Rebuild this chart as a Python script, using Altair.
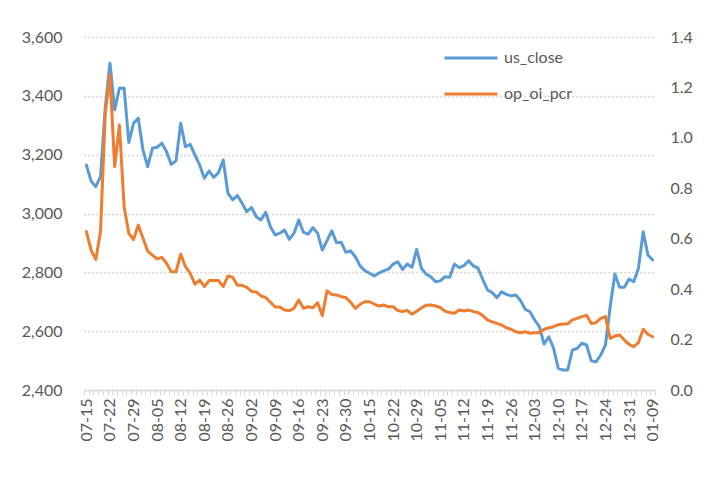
import altair as alt
import pandas as pd

tick_labels = ["07-15", "07-22", "07-29", "08-05", "08-12", "08-19", "08-26", "09-02",
               "09-09", "09-16", "09-23", "09-30", "10-15", "10-22", "10-29", "11-05",
               "11-12", "11-19", "11-26", "12-03", "12-10", "12-17", "12-24", "12-31", "01-09"]

us_close = [3165, 3110, 3091, 3125, 3360, 3511, 3352, 3426, 3426, 3241,
            3307, 3324, 3216, 3159, 3222, 3225, 3239, 3210, 3167, 3179,
            3307, 3227, 3235, 3199, 3165, 3120, 3145, 3123, 3139, 3182,
            3069, 3046, 3061, 3035, 3006, 3021, 2989, 2978, 3004, 2955,
            2927, 2933, 2944, 2912, 2933, 2978, 2936, 2930, 2952, 2933,
            2876, 2908, 2941, 2901, 2902, 2868, 2873, 2853, 2822, 2806,
            2797,
            2788, 2797, 2805, 2811, 2828, 2836, 2810, 2828, 2817, 2878,
            2814, 2794, 2785, 2768, 2771, 2785, 2783, 2828, 2816, 2823,
            2839, 2822, 2814, 2776, 2740, 2731, 2714, 2734, 2725, 2720,
            2723, 2704, 2674, 2666, 2638, 2615, 2556, 2581, 2542, 2474,
            2468, 2468, 2536, 2541, 2559, 2553, 2499, 2496, 2519, 2553,
            2683, 2794, 2749, 2749, 2777, 2768, 2814, 2938, 2859, 2842]

op_oi_pcr = [0.628, 0.555, 0.518, 0.628, 1.097, 1.249, 0.886, 1.051, 0.727, 0.621,
             0.597, 0.654, 0.602, 0.551, 0.535, 0.520, 0.526, 0.502, 0.469, 0.469,
             0.539, 0.489, 0.463, 0.420, 0.436, 0.410, 0.434, 0.434, 0.434, 0.410,
             0.452, 0.447, 0.415, 0.415, 0.407, 0.391, 0.389, 0.373, 0.367, 0.348,
             0.329, 0.329, 0.317, 0.315, 0.324, 0.357, 0.324, 0.330, 0.326, 0.346,
             0.295, 0.394, 0.379, 0.377, 0.370, 0.367, 0.348, 0.324, 0.340, 0.350,
             0.350,
             0.341, 0.333, 0.337, 0.330, 0.330, 0.315, 0.311, 0.315, 0.301, 0.312,
             0.325, 0.336, 0.337, 0.333, 0.327, 0.313, 0.307, 0.304, 0.317, 0.313,
             0.317, 0.311, 0.307, 0.295, 0.278, 0.270, 0.264, 0.258, 0.247, 0.241,
             0.231, 0.227, 0.231, 0.225, 0.227, 0.227, 0.241, 0.247, 0.251, 0.259,
             0.262, 0.262, 0.278, 0.284, 0.291, 0.296, 0.264, 0.267, 0.284, 0.291,
             0.205, 0.214, 0.218, 0.198, 0.181, 0.172, 0.188, 0.241, 0.221, 0.211]

series_names = ["us_close", "op_oi_pcr"]
series_colors = ["#5B9BD5", "#ED7D31"]

n = len(us_close)
df = pd.DataFrame({
    "i": list(range(n)) * 2,
    "series": [series_names[0]] * n + [series_names[1]] * n,
    "value": us_close + op_oi_pcr,
})

label_array = "[" + ",".join("'" + t + "'" for t in tick_labels) + "]"
label_expr = f"datum.value % 5 == 0 ? {label_array}[datum.value / 5] : ''"

grey = "#595959"
light = "#d9d9d9"

x_enc = alt.X(
    "i:O",
    scale=alt.Scale(type="band", paddingInner=0, paddingOuter=0),
    axis=alt.Axis(
        values=list(range(n)), labelExpr=label_expr, labelAngle=270,
        labelAlign="right", labelBaseline="middle", tickBand="extent",
        tickSize=5, tickColor=light, domainColor=light, domainWidth=1.5,
        labelOverlap=False, grid=False, title=None, labelPadding=3,
        labelColor=grey, labelFontSize=16,
    ),
)

color_enc = alt.Color(
    "series:N",
    scale=alt.Scale(domain=series_names, range=series_colors),
    legend=alt.Legend(
        orient="none", legendX=359, legendY=-7, title=None,
        symbolType="stroke", symbolSize=2809, symbolStrokeWidth=3,
        labelFontSize=16, labelColor=grey, labelOffset=5,
        rowPadding=-15, padding=0,
    ),
)

base = alt.Chart(df)

left = base.transform_filter(alt.datum.series == series_names[0]).mark_line(
    strokeWidth=3, strokeJoin="round", strokeCap="round"
).encode(
    x=x_enc,
    y=alt.Y(
        "value:Q",
        scale=alt.Scale(domain=[2400, 3600]),
        axis=alt.Axis(
            values=[2400, 2600, 2800, 3000, 3200, 3400, 3600], format=",.0f",
            grid=True, gridColor="#c8c8c8", gridDash=[1.5, 2.5], gridWidth=1.3,
            domain=False, ticks=False, tickSize=0, labelPadding=22,
            title=None, labelColor=grey, labelFontSize=16,
        ),
    ),
    color=color_enc,
)

right = base.transform_filter(alt.datum.series == series_names[1]).mark_line(
    strokeWidth=3, strokeJoin="round", strokeCap="round"
).encode(
    x=x_enc,
    y=alt.Y(
        "value:Q",
        scale=alt.Scale(domain=[0, 1.4]),
        axis=alt.Axis(
            orient="right", values=[0, 0.2, 0.4, 0.6, 0.8, 1.0, 1.2, 1.4],
            format=".1f", grid=False, domain=False, ticks=False, tickSize=0,
            labelPadding=15, title=None, labelColor=grey, labelFontSize=16,
        ),
    ),
    color=color_enc,
)

chart = alt.layer(left, right).resolve_scale(y="independent").properties(
    width=571, height=353,
    autosize=alt.AutoSizeParams(type="none"),
    padding={"left": 76, "top": 29, "right": 53, "bottom": 95},
).configure(font="Lato").configure_view(stroke=None)

chart.save("out.html", embed_options={"renderer": "svg", "actions": False})
